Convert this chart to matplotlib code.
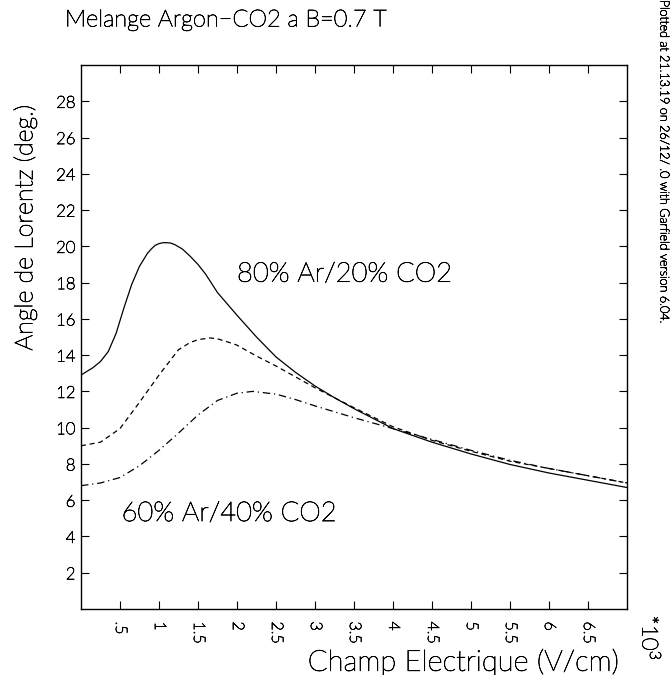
import matplotlib
matplotlib.use("Agg")
import matplotlib.pyplot as plt
import matplotlib.patheffects as pe

FONT = ['Lato', 'DejaVu Sans']
plt.rcParams['font.family'] = FONT
plt.rcParams['font.weight'] = 'light'
plt.rcParams['mathtext.fontset'] = 'custom'
plt.rcParams['mathtext.rm'] = 'Lato:light'
plt.rcParams['mathtext.it'] = 'Lato:light'

# ---- data (E field in units of 10^3 V/cm, Lorentz angle in degrees) ----
x_80 = [0, 0.15, 0.25, 0.35, 0.45, 0.55, 0.65, 0.75, 0.85, 0.9, 0.95, 1.0, 1.05, 1.1, 1.15, 1.2, 1.3,
        1.4, 1.5, 1.6, 1.75, 2.0, 2.25, 2.5, 2.75, 3.0, 3.25, 3.5, 4.0, 4.5, 5.0, 5.5, 6.0, 6.5, 7.0]
y_80 = [12.9, 13.3, 13.65, 14.2, 15.2, 16.6, 17.9, 18.9, 19.6, 19.85, 20.05, 20.15, 20.2, 20.2, 20.18,
        20.1, 19.85, 19.45, 19.0, 18.45, 17.45, 16.2, 15.0, 13.9, 13.05, 12.3, 11.65, 11.05, 9.95, 9.2,
        8.55, 7.97, 7.5, 7.1, 6.7]

x_70 = [0, 0.25, 0.5, 0.75, 1.0, 1.25, 1.4, 1.5, 1.65, 1.75, 1.9, 2.0, 2.25, 2.5, 2.75, 3.0, 3.5, 4.0, 4.5,
        5.0, 5.5, 6.0, 6.5, 7.0]
y_70 = [9.0, 9.2, 9.95, 11.4, 12.9, 14.3, 14.7, 14.85, 14.95, 14.9, 14.7, 14.55, 13.95, 13.4, 12.8, 12.2,
        11.1, 10.05, 9.3, 8.7, 8.15, 7.75, 7.35, 6.95]

x_60 = [0, 0.25, 0.5, 0.75, 1.0, 1.25, 1.5, 1.75, 2.0, 2.2, 2.5, 2.75, 3.0, 3.5, 4.0, 4.5,
        5.0, 5.5, 6.0, 6.5, 7.0]
y_60 = [6.8, 6.95, 7.25, 7.9, 8.75, 9.7, 10.7, 11.5, 11.9, 12.0, 11.85, 11.55, 11.2, 10.55, 9.95, 9.35,
        8.75, 8.2, 7.75, 7.35, 6.95]

x_ticks = [0.5, 1, 1.5, 2, 2.5, 3, 3.5, 4, 4.5, 5, 5.5, 6, 6.5]
x_ticklabels = ['.5', '1', '1.5', '2', '2.5', '3', '3.5', '4', '4.5', '5', '5.5', '6', '6.5']
y_ticks = [2, 4, 6, 8, 10, 12, 14, 16, 18, 20, 22, 24, 26, 28]
y_ticklabels = [str(v) for v in y_ticks]

STROKE = [pe.withStroke(linewidth=0.5, foreground='black')]

W, H = 672, 675
fig = plt.figure(figsize=(W / 100, H / 100), dpi=100)
ax = fig.add_axes([81 / W, 1 - 609 / H, (627 - 81) / W, (609 - 65) / H])

ax.plot(x_80, y_80, color='black', lw=0.9, ls='-')
ax.plot(x_70, y_70, color='black', lw=0.9, ls=(0, (4, 3)))
ax.plot(x_60, y_60, color='black', lw=0.9, ls=(0, (6, 3, 1, 3)))

ax.set_xlim(0, 7)
ax.set_ylim(0, 30)
ax.set_xticks(x_ticks)
ax.set_xticklabels(x_ticklabels, rotation=270, fontsize=11.5)
ax.set_yticks(y_ticks)
ax.set_yticklabels(y_ticklabels, fontsize=12)
ax.tick_params(direction='in', length=6, width=0.8, top=True, right=True)
ax.tick_params(axis='y', pad=4)
ax.tick_params(axis='x', pad=9)
for lab in ax.get_xticklabels() + ax.get_yticklabels():
    lab.set_path_effects(STROKE)
for s in ax.spines.values():
    s.set_linewidth(1.0)

ax.text(2.0, 18.05, '80% Ar/20% CO2', fontsize=19.7, ha='left', va='baseline', path_effects=STROKE)
ax.text(0.52, 4.85, '60% Ar/40% CO2', fontsize=19.7, ha='left', va='baseline', path_effects=STROKE)

fig.text(65 / W, 1 - 20 / H, 'Melange Argon\u2212CO2 a B=0.7 T', fontsize=17, ha='left', va='center',
         path_effects=STROKE)
fig.text(25 / W, 1 - 228 / H, 'Angle de Lorentz (deg.)', fontsize=18, rotation=90, ha='center', va='center',
         path_effects=STROKE)
fig.text(618 / W, 1 - 662 / H, 'Champ Electrique (V/cm)', fontsize=21, ha='right', va='center',
         path_effects=STROKE)
fig.text(650 / W, 1 - 638 / H, r'$*10^{3}$', fontsize=16, rotation=270, ha='center', va='center',
         path_effects=STROKE)
fig.text(664 / W, 1.0, 'Plotted at 21.13.19 on 26/12/ .0 with Garfield version 6.04.',
         fontsize=9, rotation=270, ha='center', va='top', path_effects=STROKE)

fig.savefig('out.png', dpi=100)
